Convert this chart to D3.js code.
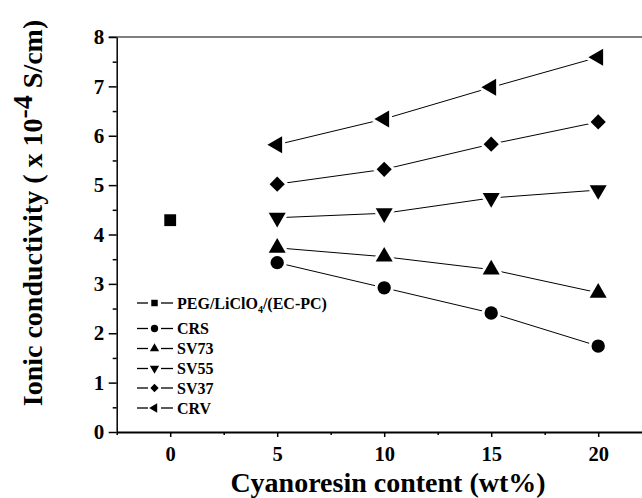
<!DOCTYPE html>
<html>
<head>
<meta charset="utf-8">
<script src="https://cdn.jsdelivr.net/npm/d3@7"></script>
<style>
  body { margin: 0; background: #fff; }
  svg text { font-family: "Liberation Serif", "Times New Roman", Times, serif !important; font-weight: bold; }
</style>
</head>
<body>
<svg id="chart" width="642" height="498"></svg>
<script>
// data
const contents = [5, 10, 15, 20];
const pegX = [0];
const pegY = [4.29];
const crs = [3.43, 2.92, 2.41, 1.74];
const sv73 = [3.73, 3.55, 3.29, 2.82];
const sv55 = [4.34, 4.43, 4.74, 4.9];
const sv37 = [5.02, 5.32, 5.83, 6.28];
const crv = [5.82, 6.34, 6.98, 7.59];
const xTicks = [0, 5, 10, 15, 20];
const yTicks = [0, 1, 2, 3, 4, 5, 6, 7, 8];

const series = [
  { name: "PEG/LiClO4/(EC-PC)", xs: pegX, ys: pegY, sym: d3.symbolSquare, rot: 0, size: 140 },
  { name: "CRS", xs: contents, ys: crs, sym: d3.symbolCircle, rot: 0, size: 140 },
  { name: "SV73", xs: contents, ys: sv73, sym: d3.symbolTriangle, rot: 0, size: 125 },
  { name: "SV55", xs: contents, ys: sv55, sym: d3.symbolTriangle, rot: 180, size: 125 },
  { name: "SV37", xs: contents, ys: sv37, sym: d3.symbolSquare, rot: 45, size: 115 },
  { name: "CRV", xs: contents, ys: crv, sym: d3.symbolTriangle, rot: -90, size: 125 }
];

const svg = d3.select("#chart");
const x = d3.scaleLinear().domain([-2.5, 22.5]).range([116.7, 651.7]);
const y = d3.scaleLinear().domain([0, 8]).range([432, 37]);

// top frame line
svg.append("line")
  .attr("x1", x(-2.5) - 8).attr("x2", 642)
  .attr("y1", y(8)).attr("y2", y(8))
  .attr("stroke", "#555").attr("stroke-width", 1.5);

// x axis
const gx = svg.append("g").attr("transform", `translate(0,${y(0)})`);
gx.call(d3.axisBottom(x).tickValues(d3.range(-2.5, 22.6, 5)).tickSize(3).tickFormat("").tickSizeOuter(0));
gx.call(g => g.select(".domain").remove());
gx.selectAll(".tick line").attr("stroke-width", 1.5);
const gx2 = svg.append("g").attr("transform", `translate(0,${y(0)})`);
gx2.call(d3.axisBottom(x).tickValues(xTicks).tickSize(5).tickPadding(9.5).tickSizeOuter(0));
gx2.select(".domain").attr("stroke-width", 2);
gx2.selectAll(".tick line").attr("stroke-width", 1.5);
gx2.selectAll("text").style("font-size", "20.5px").attr("fill", "#000");

// y axis
const gy = svg.append("g").attr("transform", `translate(${x(-2.5)},0)`);
gy.call(d3.axisLeft(y).tickValues(d3.range(0.5, 8, 1)).tickSize(4).tickFormat("").tickSizeOuter(0));
gy.call(g => g.select(".domain").remove());
gy.selectAll(".tick line").attr("stroke-width", 1.5);
const gy2 = svg.append("g").attr("transform", `translate(${x(-2.5)},0)`);
gy2.call(d3.axisLeft(y).tickValues(yTicks).tickSize(8).tickPadding(4.5).tickSizeOuter(0));
gy2.select(".domain").attr("stroke-width", 1.5);
gy2.selectAll(".tick line").attr("stroke-width", 1.5);
gy2.selectAll("text").style("font-size", "21px").attr("fill", "#000");
svg.selectAll("g").attr("font-family", null);

// axis titles
svg.append("text")
  .attr("x", 388).attr("y", 492)
  .attr("text-anchor", "middle")
  .style("font-size", "28px")
  .text("Cyanoresin content (wt%)");

const yt = svg.append("text")
  .attr("transform", "translate(42,213) rotate(-90)")
  .attr("text-anchor", "middle")
  .style("font-size", "28px");
yt.append("tspan").text("Ionic conductivity ( x 10");
yt.append("tspan").attr("dy", -10).text("-4");
yt.append("tspan").attr("dy", 10).text(" S/cm)");

// lines and markers
const line = d3.line().x(d => x(d[0])).y(d => y(d[1]));
const plot = svg.append("g");
series.forEach(s => {
  const pts = s.xs.map((v, i) => [v, s.ys[i]]);
  if (pts.length > 1) {
    plot.append("path").datum(pts)
      .attr("fill", "none").attr("stroke", "#000").attr("stroke-width", 1)
      .attr("d", line);
  }
  plot.selectAll(null).data(pts).enter().append("path")
    .attr("transform", d => `translate(${x(d[0])},${y(d[1])}) rotate(${s.rot})`)
    .attr("d", d3.symbol().type(s.sym).size(s.size))
    .attr("fill", "#000").attr("stroke", "#fff").attr("stroke-width", 6)
    .attr("paint-order", "stroke");
});

// legend
const legRows = [303, 328.5, 348.5, 368.5, 388, 408];
const leg = svg.append("g");
series.forEach((s, i) => {
  const ly = legRows[i];
  const g = leg.append("g").attr("transform", `translate(0,${ly})`);
  g.append("line").attr("x1", 137).attr("x2", 148).attr("y1", 0).attr("y2", 0).attr("stroke", "#000").attr("stroke-width", 1.3);
  g.append("line").attr("x1", 161).attr("x2", 173).attr("y1", 0).attr("y2", 0).attr("stroke", "#000").attr("stroke-width", 1.3);
  g.append("path")
    .attr("transform", `translate(154.5,0) rotate(${s.rot})`)
    .attr("d", d3.symbol().type(s.sym).size(s.size * 0.3))
    .attr("fill", "#000");
  const t = g.append("text").attr("x", 177).attr("y", 5.5).style("font-size", "16px");
  if (i === 0) {
    t.append("tspan").text("PEG/LiClO");
    t.append("tspan").attr("dy", 4).style("font-size", "10px").text("4");
    t.append("tspan").attr("dy", -4).text("/(EC-PC)");
  } else {
    t.text(s.name);
  }
});
</script>
</body>
</html>
